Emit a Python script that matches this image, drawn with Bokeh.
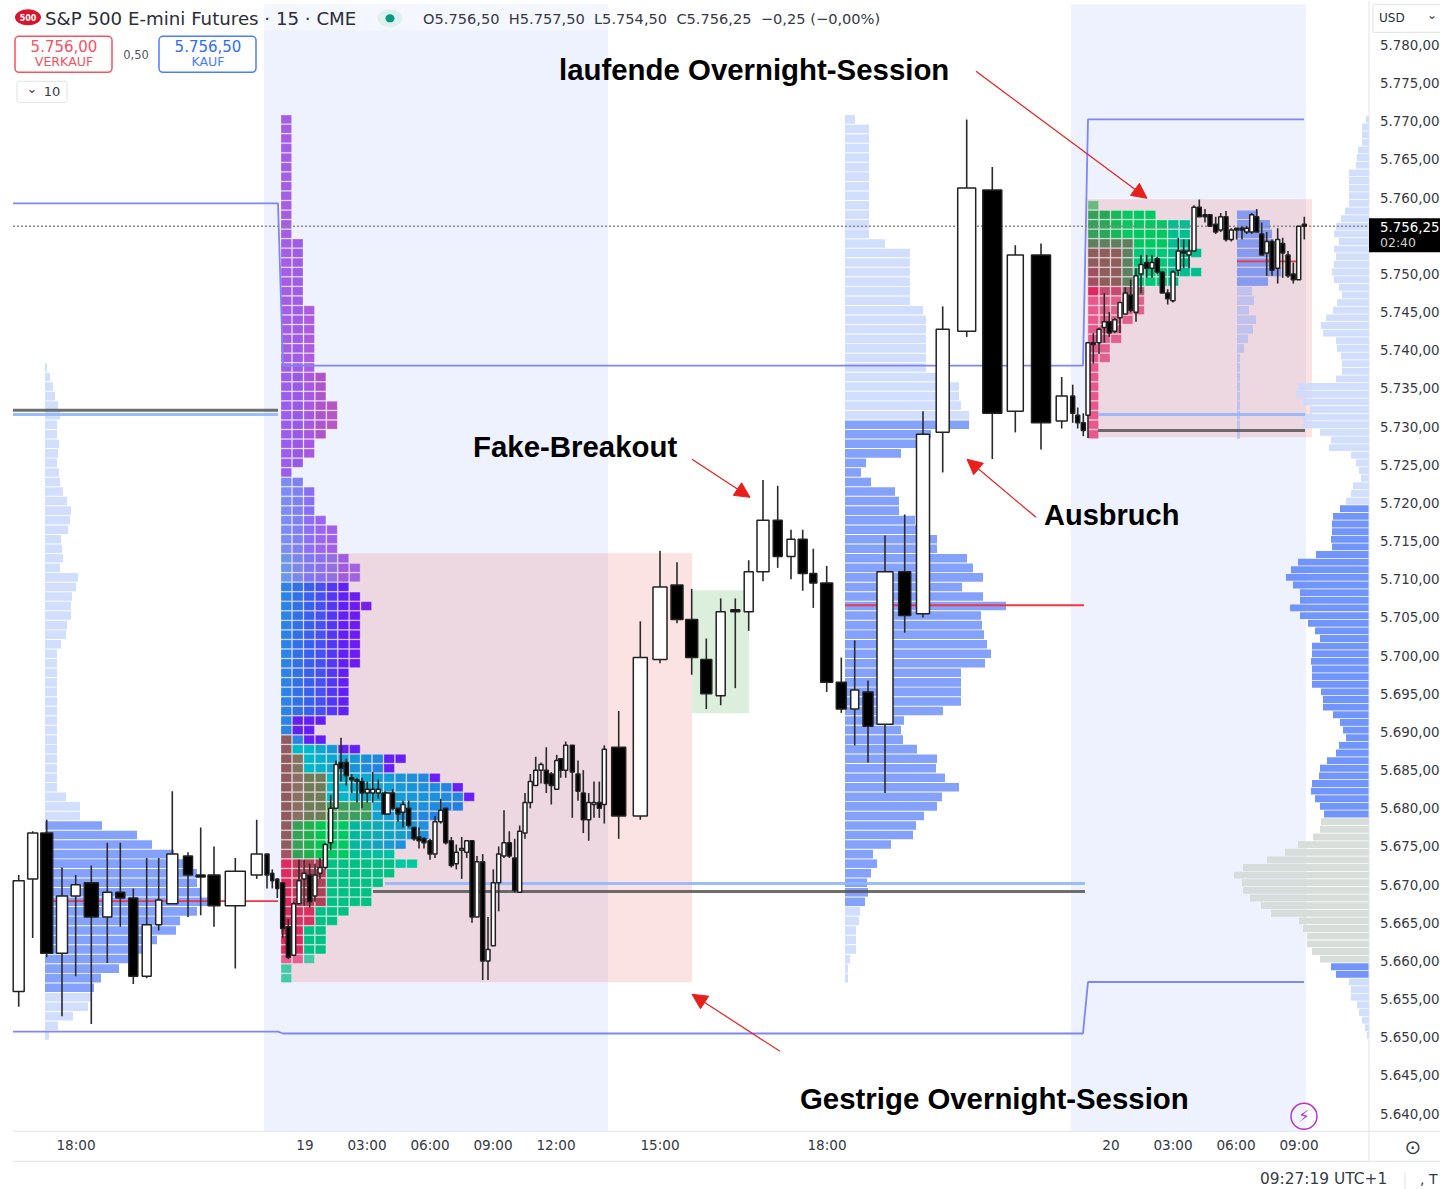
from bokeh.plotting import figure
from bokeh.embed import file_html
from bokeh.resources import INLINE
from bokeh.models import Range1d, FixedTicker, Label, Arrow, NormalHead, BoxAnnotation, ColumnDataSource

# ---------- data ----------
candle_x = [18.7,32.7,46.7,62,75.7,91.3,107.3,120.3,133.3,146.7,
158.7,172.3,188,200.7,214,235.3,256.7,267,272.3,277.3,
282.7,288.3,293.7,299,304,309.7,315,320,325.3,330.7,
336,341,346.3,351.7,357,362,367.3,372.7,378.3,385,
387.7,392.7,398,403,408.7,414,419,424,430,435,
440.7,445.7,451.3,456.3,461.7,466.7,472,477,482.7,488,
493.3,498.7,504,509.3,514.7,519.7,525,530.3,535.7,541,
546.3,551.3,556.7,560.7,565.7,572.3,578,583.3,588.7,594,
599.3,604.3,618.7,640.3,660,677,691.7,706.3,720.7,735.3,
748.7,763,777.7,791,802.7,813.3,826.7,841.3,854.7,868,
885,904.7,923,942.7,966.7,992.3,1015.3,1041,1061.7,1072.7,
1077.7,1083.3,1088,1093.3,1099,1104.3,1109.3,1114.7,1120,1125.3,
1130.7,1136,1141,1146.7,1152,1157.3,1162.3,1167.7,1173,1178.3,
1183.7,1189,1194,1199.3,1205,1210,1215.7,1220.7,1226,1231.3,
1236.7,1242,1246.7,1251.7,1256.7,1261.7,1266.7,1272,1277.7,1282.7,
1288,1293.3,1298.7,1304.3]
candle_dir = list("uuduududdu"  # 1-10
                  "uuddduuddd"  # 11-20
                  "dduuuduuuu"  # 21-30
                  "uddddduuud"  # 31-40
                  "uddudddddu"  # 41-50
                  "udduuududu"  # 51-60
                  "uuudduuuuu"  # 61-70
                  "ddududdduu"  # 71-80
                  "duduudddud"  # 81-90
                  "uududdddud"  # 91-100
                  "uduuududud"  # 101-110
                  "dduduuduuu"  # 111-120
                  "duududdduu"  # 121-130
                  "duuddddudu"  # 131-140
                  "dduuddudud"  # 141-150
                  "ddud")       # 151-154
candle_high = [5671.25,5677,5678.5,5672.25,5671.25,5672.5,5675.5,5675.5,5669.5,5673.5,
5673.5,5682.25,5674.25,5677.5,5675,5673.5,5678.5,5674,5672,5670.75,
5670.25,5665.5,5667.75,5673.25,5673.25,5672.75,5672.75,5673.5,5675.5,5681.75,
5686.25,5689.25,5686.5,5684.5,5684,5684,5683.5,5684.75,5683.75,5682.25,
5682,5682.5,5680,5681,5681,5677.5,5677.5,5676.25,5676,5679,
5681.25,5680,5676.25,5675.25,5676.25,5675.75,5675.75,5673.75,5674,5665.75,
5672,5675,5679.75,5677,5676,5677.75,5682,5684.5,5686.75,5686,
5688,5684.75,5687,5686.5,5688.75,5688.25,5686.25,5685,5682,5683.5,
5683.5,5688.25,5692.75,5704.5,5713.75,5712.25,5708.75,5702.25,5707.5,5707.5,
5712.5,5723,5722.25,5716.5,5716.5,5714,5711.75,5699.75,5702,5696.75,
5715.75,5718.5,5732,5745.75,5770.25,5764,5753.75,5754,5736.5,5735.5,
5732.5,5731.75,5741,5742.25,5743,5747.5,5745,5744.25,5746.25,5748.25,
5749.25,5750.75,5752.5,5752.5,5752.5,5752.25,5750.25,5748,5750.5,5754.75,
5754.5,5754.5,5759,5759.75,5758.5,5757.75,5757.5,5758,5758.25,5756,
5756,5756.25,5756.25,5758,5758.5,5756.75,5755.5,5754.5,5756,5754.75,
5753,5751.5,5756.25,5757.5]
candle_top = [5670.5,5676.75,5676.75,5668.5,5670,5670.25,5669,5669,5668.25,5664.75,
5668,5674,5673.75,5671.25,5671.25,5671.75,5674,5674,5671.5,5670.75,
5670.25,5664.5,5667.5,5670.5,5671.5,5671.25,5671.25,5672.25,5675.25,5680,
5685.75,5686,5686,5684,5683.75,5683.5,5682.5,5682.5,5682.5,5682,
5682,5682,5680,5680.5,5680,5677.5,5676.25,5676,5675.75,5678.25,
5679.75,5680,5675.75,5674.25,5674.75,5675.75,5675.75,5673,5673,5661.5,
5670.25,5674,5675.5,5675.5,5673.5,5677,5680.75,5683.5,5685,5685.75,
5685,5684.5,5686.25,5686.5,5688.25,5688.25,5684.5,5682,5680.75,5680.75,
5680.75,5687.75,5688,5699.75,5709,5709.25,5704.75,5699.5,5705.75,5706,
5711,5717.75,5717.75,5715.25,5715.25,5710.75,5709.5,5696.5,5695.5,5695.25,
5711,5711,5729,5742.75,5761.25,5761,5752.5,5752.5,5734,5734,
5731.5,5730.5,5741,5741,5742.75,5743.75,5743.75,5744,5746.25,5747.5,
5747.25,5749.75,5751.25,5751.5,5751.5,5752,5750.25,5747.5,5750.25,5753,
5753,5753,5758.75,5758.75,5757.75,5757.75,5756.5,5757.5,5757.5,5755.75,
5756,5756,5756,5757.75,5757.5,5755.25,5754.25,5754.25,5754.5,5754,
5752.5,5750,5756.25,5756.5]
candle_bottom = [5656,5670.75,5661,5661,5668.5,5665.75,5665.75,5668.25,5658,5658,
5664.75,5667.5,5671.25,5671,5667.25,5667.25,5671.25,5671.25,5670.5,5669.5,
5664.25,5660.5,5660.75,5667.5,5670.75,5667.75,5668.5,5671.5,5672.25,5675.5,
5680,5685.25,5684.25,5683.75,5683.5,5682,5682,5682,5682,5679.25,
5679.25,5680,5679.25,5679.5,5677.75,5676,5675.75,5675.5,5674,5674,
5678.25,5675.5,5672.5,5672.75,5674.5,5674.25,5665.75,5665.75,5660,5660,
5662,5670.25,5673.75,5673.75,5669.25,5669,5676.75,5680.75,5683,5685,
5683.25,5683,5682.5,5685,5685,5684.75,5682.25,5678.5,5678.5,5680.5,
5680,5680.5,5679,5679,5699.5,5704.75,5699.75,5695,5694.75,5705.75,
5705.75,5711,5713,5713,5710.75,5709.5,5696.5,5693,5693,5690.75,
5691,5705.25,5705.5,5729.25,5742.5,5731.75,5732,5730.5,5730.75,5731.75,
5730.5,5729.5,5731.5,5740.75,5741,5743,5742.25,5742.5,5744.25,5744.75,
5745.25,5745,5750,5750.75,5750.75,5750.25,5747.5,5746.75,5746.5,5750.5,
5752.75,5752.5,5753,5757.5,5757.5,5756.25,5755.5,5755.75,5754.5,5754.5,
5755.75,5755.75,5755.5,5755.5,5755.5,5752.5,5752.75,5750.5,5750.75,5752.75,
5749.75,5749.25,5749.25,5756.25]
candle_low = [5654,5663,5660.5,5652.75,5658,5651.75,5659.75,5664.5,5657,5657.75,
5664,5667.5,5665.75,5666,5664.5,5659,5670.75,5669.5,5669.5,5668.25,
5663,5660.25,5660.75,5667.5,5667.25,5667,5667.75,5670.75,5672,5674.5,
5680,5683.5,5683,5682,5680.75,5680,5680.75,5680.75,5681.25,5679.25,
5679.25,5679.75,5678.25,5677.5,5677.5,5675.75,5674.75,5674.75,5673.25,5673.5,
5678,5675.25,5672.25,5672,5670.75,5673.5,5665,5665.75,5657.5,5657.5,
5662,5666.5,5673.5,5673.5,5669,5669,5676,5680,5683,5683.25,
5682,5680.5,5682.5,5684,5684,5678.75,5681,5676.75,5675.75,5678.75,
5678.75,5678,5676,5678.5,5699,5704.25,5697.5,5693,5693.5,5695.75,
5703.25,5709.75,5711.5,5710,5708.5,5706.25,5695.25,5692.5,5688.25,5686,
5682,5703,5705,5724,5741.75,5725.75,5729.25,5727,5729.75,5730.5,
5729.75,5728.75,5728.5,5738.25,5739.5,5741,5741.75,5742.25,5742.25,5744.75,
5745,5743.75,5747.5,5749.5,5749.5,5750,5747.5,5746,5746.25,5749.75,
5750.75,5750.75,5753,5757.5,5756.75,5756.25,5755.25,5755.5,5754.25,5754.25,
5754.5,5754.5,5755.25,5755.25,5755.5,5752.5,5749.75,5749.75,5748.75,5749.5,
5749.5,5748.75,5749.25,5754.5]

# market-profile letter counts per price row, top row first
tpo_day = [1,1,1,1,1,1,1,1,1,1,1,1,1,2,2,2,2,2,2,2,3,3,3,3,3,3,3,4,4,4,5,5,5,4,3,3,2,1,2,3,3,3,4,5,5,5,
           6,7,7,6,7,8,7,7,7,7,7,7,6,6,6,6,6,4,3,4,7,11,10,14,16,17,16,14,13,13,11,10,12,10,9,8,8,6,5,4,4,4,3,1,1]
tpo_now = [1,6,9,9,9,10,9,10,8,5,5,5,4,3,3,2,2,1,1,1,1,1,1,1,1]

# volume profiles (volume per price row, top row first)
vp_prev = [2,5,8,10,13,15,12,12,14,13,12,14,15,18,22,26,25,23,16,17,18,15,33,31,27,26,26,22,21,16,
           12,12,12,12,12,12,12,12,12,12,12,12,12,12,12,21,35,35,
           57,92,107,129,142,152,152,156,169,152,135,131,112,97,86,74,56,49,46,43,28,13,4]
vp_day = [10,24,24,24,24,24,24,24,24,24,24,24,24,40,65,65,65,65,65,65,78,81,81,81,81,81,81,92,114,114,116,124,
          124,86,72,56,21,16,26,50,54,54,70,72,92,92,122,128,138,117,138,161,136,137,139,142,146,140,116,116,116,116,
          98,59,56,58,72,92,91,100,114,97,92,79,71,68,46,28,32,26,22,23,20,15,14,11,11,11,5,3,3]
vp_now = [21,33,35,37,34,37,44,31,15,17,12,19,16,11,7,3,3,3,3,3,3,3,3,3]
vp_all = [3,7,7,7,11,12,13,20,20,20,20,20,24,28,33,35,30,35,33,35,37,35,30,27,32,36,43,48,46,33,32,28,27,27,33,
          71,73,66,59,67,66,49,38,40,18,13,10,8,16,18,23,29,36,37,37,38,37,53,71,78,83,76,69,69,79,69,61,54,49,57,57,
          58,57,57,57,48,46,46,36,29,26,23,30,33,42,49,50,57,58,54,49,45,48,49,56,71,84,102,126,135,127,126,119,108,98,
          70,66,62,62,57,49,38,33,20,18,18,12,10,7,4,2]

level_high_prev = 5759.25
level_high_mid = 5738.0
level_high_now = 5770.25
level_low_prev = 5650.75
level_low_mid = 5650.5
level_low_now = 5657.25
price_last = 5756.25

# the 5755 label sits behind the last-price tag in the reference, so it is not listed
price_ticks = [5640,5645,5650,5655,5660,5665,5670,5675,5680,5685,5690,5695,5700,5705,5710,5715,5720,5725,5730,
               5735,5740,5745,5750,5760,5765,5770,5775,5780]
time_labels = ["18:00","19","03:00","06:00","09:00","12:00","15:00","18:00","20","03:00","06:00","09:00"]
time_slots = [76,305,367,430,493,556,660,827,1111,1173,1236,1299]

# ---------- layout helpers ----------
def Y(py):
    return 5785.85 - 0.131 * py

p = figure(width=1440, height=1189, output_backend="svg", toolbar_location=None,
           x_range=Range1d(0.5, 1440.5), y_range=Range1d(Y(1189.2), Y(0.2)), y_axis_location="right",
           min_border_left=0, min_border_right=0, min_border_top=0, min_border_bottom=0,
           outline_line_color=None, background_fill_color="white", border_fill_color="white")
p.grid.visible = False
GRID = "#E0E3EB"
TXT = "#363A45"

ax = p.xaxis[0]
ax.fixed_location = Y(1131)
ax.ticker = FixedTicker(ticks=time_slots)
ax.major_label_overrides = {t: s for t, s in zip(time_slots, time_labels)}
ax.major_tick_line_color = None
ax.major_tick_out = 0
ax.major_tick_in = 0
ax.minor_tick_line_color = None
ax.axis_line_color = None
ax.major_label_text_font = "DejaVu Sans"
ax.major_label_text_font_size = "13.6px"
ax.major_label_text_color = TXT
ax.major_label_standoff = 6

ay = p.yaxis[0]
ay.fixed_location = 1369
ay.ticker = FixedTicker(ticks=price_ticks)
ay.major_label_overrides = {v: "5.%03d,00" % (v - 5000) for v in price_ticks}
ay.major_tick_line_color = None
ay.major_tick_out = 0
ay.major_tick_in = 0
ay.minor_tick_line_color = None
ay.axis_line_color = None
ay.major_label_text_font = "DejaVu Sans"
ay.major_label_text_font_size = "13.4px"
ay.major_label_text_color = TXT
ay.major_label_standoff = 11

# ---------- backgrounds ----------
p.quad(left=[264, 1071], right=[608, 1306], bottom=Y(1131), top=Y(4), fill_color="#EEF2FE", line_color=None)
p.quad(left=[264], right=[608], bottom=Y(30), top=Y(4), fill_color="white", fill_alpha=0.4, line_color=None)
p.quad(left=[282, 1087], right=[692, 1312], bottom=[Y(982), Y(437)], top=[Y(553), Y(199)],
       fill_color="#EB7373", fill_alpha=0.2, line_color=None)
p.quad(left=[692], right=[749], bottom=[Y(713)], top=[Y(590)], fill_color="#4CAF50", fill_alpha=0.2, line_color=None)

# ---------- market profile cells ----------
ROW = 1.25
TOP = 5770.25
def mix(a, b, t):
    t = max(0, min(1, t))
    ca = [int(a[i:i+2], 16) for i in (1, 3, 5)]
    cb = [int(b[i:i+2], 16) for i in (1, 3, 5)]
    return "#%02X%02X%02X" % tuple(round(x + (y - x) * t) for x, y in zip(ca, cb))

def day_color(r, c, n):
    e = n - 1 - c
    if r <= 26:
        return ["#A45EE6", "#A05CE8", "#AC5CDE"][min(c, 2)]
    if r <= 37:
        return ["#9B5CF0", "#9A58E8", "#A758E0", "#AE55CC", "#B556C2"][min(c, 4)]
    if r <= 45:
        return ["#7D8BF5", "#8080F5", "#8A6EF5", "#9A65F0", "#A060E8", "#9A5CD8", "#A565E0"][min(c, 6)]
    if r <= 48:
        return ["#6E96E8", "#7C88E8", "#8078F0", "#8870F0", "#9070E0", "#A05CDC", "#A262E2"][min(c, 6)]
    if r <= 62:
        return ["#2C82E6", "#3070E8", "#3860EE", "#4650F4", "#5238F6", "#6020F6", "#6C1CF0", "#7420E6"][min(c, 7)]
    if r <= 64:
        return "#2C82E6" if c == 0 else "#6320F5"
    if c == 0:
        if r <= 76: return "#8E5C5E"
        if r == 77: return "#A05560"
        if r <= 87: return "#E0295E"
        if r == 88: return "#E86090"
        return "#45C9A7"
    if r == 65:
        return "#2C82E6" if c == 1 else "#6320F5"
    if r <= 68:
        if r >= 67 and c == 1: return "#7E7460"
        if (r == 66 and e <= 1) or (r == 67 and e <= 1) or (r == 68 and e == 0): return "#6520F5"
        return mix("#00B8C8", "#2A78E6", (c - 2) / max(n - 3, 1))
    if r <= 73:
        if c == 1: return "#8A7062"
        if c <= 3: return "#6E7C58"
        if r >= 72 and c <= 7: return "#3C9E5C"
        if r <= 71 and e == 0: return "#6A20F5"
        return mix("#00BBC8", "#2680E4", (c - 4) / max(n - 5, 1))
    if r <= 77:
        if c <= 3: return ["", "#35A058", "#20B050", "#00C850"][c]
        if c <= 5: return "#00C864"
        end = "#1F8FE0" if r <= 76 else "#00BFA5"
        return mix("#00C090", end, (c - 5) / max(n - 6, 1))
    if r <= 82:
        if c == 1: return "#C03A5C"
        if c <= 3: return "#B04058"
        if r == 78 and c >= 10: return "#00C8A0"
        return "#00C084"
    if r <= 84:
        return "#D83060" if c <= 2 else "#00C084"
    if r <= 87:
        return "#E0295E" if c == 1 else "#00C084"
    if r == 88:
        return "#E86090" if c == 1 else "#45C9A7"
    return "#45C9A7"

def now_color(r, c, n):
    if r == 0: return "#6CB87E"
    if r <= 3:
        if c >= 7: return "#00BE90"
        return ["#35A058", "#25A858", "#15B858", "#05C860"][c] if c <= 3 else "#00C860"
    if r == 4:
        if c >= 7: return "#00BE90"
        return "#5F8060" if c <= 3 else "#00C860"
    if r <= 8:
        if c >= 7: return "#00BE90"
        if c <= 2: return "#A05060" if (r >= 7 and c == 0) else "#8E5E5C"
        if c == 3: return "#5F8060"
        return "#00C878"
    if r == 9:
        return ["#E0295E", "#C84A70", "#C84A70", "#A06070", "#A06070"][c]
    return "#E8588C" if c == 0 else "#E0608C"

def cells(rows, x0, first_row, colf):
    out = dict(l=[], r=[], t=[], b=[], c=[])
    for i, n in enumerate(rows):
        mid = TOP - ROW * (first_row + i)
        for c in range(n):
            out["l"].append(x0 + c * 11.43)
            out["r"].append(x0 + c * 11.43 + 10.6)
            out["t"].append(mid + ROW * 0.46)
            out["b"].append(mid - ROW * 0.46)
            out["c"].append(colf(i, c, n))
    return ColumnDataSource(out)

p.quad(left="l", right="r", top="t", bottom="b", fill_color="c", line_color="white", line_alpha=0.35, line_width=0.8,
       source=cells(tpo_day, 281, 0, day_color))
p.quad(left="l", right="r", top="t", bottom="b", fill_color="c", line_color="white", line_alpha=0.35, line_width=0.8,
       source=cells(tpo_now, 1088, 9, now_color))

# ---------- volume profiles ----------
LIGHT = "#CFDCFD"
DARK = "#7D9DFB"
def rows_hbar(values, base, first_row, top_price=TOP, step=ROW, sign=1, colors=None, alpha=1.0):
    y = [top_price - step * (first_row + i) for i in range(len(values))]
    end = [base + sign * v for v in values]
    p.hbar(y=y, left=base, right=end, height=step * 0.9, fill_color=colors, fill_alpha=alpha, line_color=None)

rows_hbar(vp_prev, 45, 26, colors=[DARK if 74 <= 26 + i <= 91 else LIGHT for i in range(len(vp_prev))], alpha=0.95)
rows_hbar(vp_day, 845, 0, colors=[DARK if 32 <= i <= 82 else LIGHT for i in range(len(vp_day))], alpha=0.95)
rows_hbar(vp_now, 1237, 10, colors=["#7490F0" if i <= 7 else "#B9BDEE" for i in range(len(vp_now))], alpha=0.85)
rows_hbar(vp_all, 1369, 0, top_price=5770.25, step=1.0, sign=-1, alpha=0.9,
          colors=["#D3DAD6" if 92 <= i <= 110 else ("#628AFB" if (51 <= i <= 91 or 111 <= i <= 112) else "#CCDAFD")
                  for i in range(len(vp_all))])

# ---------- levels ----------
LEVEL = "#7F86F5"
p.line([13, 278, 283, 1083, 1088, 1304],
       [level_high_prev, level_high_prev, level_high_mid, level_high_mid, level_high_now, level_high_now],
       line_color=LEVEL, line_width=1.8)
p.line([13, 278, 283, 1083, 1088, 1304],
       [level_low_prev, level_low_prev, level_low_mid, level_low_mid, level_low_now, level_low_now],
       line_color=LEVEL, line_width=1.8)
p.segment(x0=[13, 373, 1098], x1=[278, 1085, 1305], y0=[5732.15, 5669.1, 5729.5], y1=[5732.15, 5669.1, 5729.5],
          line_color="#555555", line_width=3, line_alpha=0.85)
p.segment(x0=[13, 385, 1098], x1=[278, 1085, 1305], y0=[5731.6, 5670.15, 5731.6], y1=[5731.6, 5670.15, 5731.6],
          line_color="#8FB6FB", line_width=3, line_alpha=0.9)
p.segment(x0=[52, 845, 1237], x1=[278, 1084, 1298], y0=[5667.85, 5706.6, 5751.65], y1=[5667.85, 5706.6, 5751.65],
          line_color="#F23645", line_width=1.8)
p.line([13, 1369], [price_last, price_last], line_color="#888888", line_dash="2 2", line_width=1.3)

# ---------- candles ----------
widths = [11,10,12,11,9,14,9,9,9,9,6,11,9,9,12,20,11,4,3,3] + [4]*62 + \
         [14,14,14,12,12,11,9,9,9,12,9,8,9,7,12,10,8,10,16,12,13,13,18,19,16,19,11,4,4,4] + [4]*42
widths[39] = 6
widths[40] = 5
src = ColumnDataSource(dict(x=candle_x, hi=candle_high, lo=candle_low, top=candle_top, bot=candle_bottom, w=widths,
                            f=["white" if d == "u" else "black" for d in candle_dir]))
p.segment(x0="x", x1="x", y0="lo", y1="hi", line_color="#2A2A2A", line_width=1.6, source=src)
p.vbar(x="x", width="w", top="top", bottom="bot", fill_color="f", line_color="#222222", line_width=1.5, source=src)

# ---------- annotations ----------
def txt(x, y, s, size, color=TXT, font="DejaVu Sans", style="normal", align="left"):
    p.add_layout(Label(x=x, y=Y(y), text=s, text_font=font, text_font_size=f"{size}px", text_color=color,
                       text_font_style=style, text_align=align, text_baseline="middle"))

def rule(x0, y0, x1, y1, color=GRID, lw=1):
    p.segment(x0=[x0], y0=[Y(y0)], x1=[x1], y1=[Y(y1)], line_color=color, line_width=lw)

RED = "#E8201C"
for a in [(976, 71, 1147, 198), (692, 459, 750, 497), (1036, 517, 967, 459), (780, 1051, 692, 994)]:
    p.add_layout(Arrow(end=NormalHead(size=15, fill_color=RED, line_color=RED), x_start=a[0], y_start=Y(a[1]),
                       x_end=a[2], y_end=Y(a[3]), line_color=RED, line_width=1.2))

AF = "Liberation Sans"
txt(559, 69, "laufende Overnight-Session", 29.4, "#000000", AF, "bold")
txt(473, 446, "Fake-Breakout", 29.4, "#000000", AF, "bold")
txt(1044, 515, "Ausbruch", 29, "#000000", AF, "bold")
txt(800, 1098, "Gestrige Overnight-Session", 29.4, "#000000", AF, "bold")

# header
p.ellipse(x=[28], y=[Y(17)], width=26, height=16 * 0.131, fill_color="#D8152C", line_color=None)
txt(28, 17, "500", 8, "white", "DejaVu Sans", "bold", "center")
txt(45, 18, "S&P 500 E-mini Futures · 15 · CME", 18.2, "#2A2E39")
p.ellipse(x=[390], y=[Y(18)], width=25, height=18 * 0.131, fill_color="#DDF1EE", line_color=None)
p.ellipse(x=[390], y=[Y(18)], width=9, height=8 * 0.131, fill_color="#089981", line_color=None)
txt(423, 18, "O5.756,50  H5.757,50  L5.754,50  C5.756,25  −0,25 (−0,00%)".replace("  ", "\u00a0\u00a0"), 14.6, TXT)

p.add_layout(BoxAnnotation(left=15, right=112, top=Y(36), bottom=Y(72), fill_color="white", fill_alpha=1,
                           line_color="#F7525F", line_alpha=1, line_width=1.5, border_radius=4))
p.add_layout(BoxAnnotation(left=159, right=256, top=Y(36), bottom=Y(72), fill_color="white", fill_alpha=1,
                           line_color="#4C7DFF", line_alpha=1, line_width=1.5, border_radius=4))
p.add_layout(BoxAnnotation(left=17, right=67, top=Y(81), bottom=Y(102), fill_color="white", fill_alpha=1,
                           line_color=GRID, line_alpha=1, line_width=1, border_radius=2))
txt(64, 46, "5.756,00", 15, "#F7525F", align="center")
txt(64, 61, "VERKAUF", 12.6, "#F7525F", align="center")
txt(208, 46, "5.756,50", 15, "#2F6BFF", align="center")
txt(208, 61, "KAUF", 12.6, "#4C7DFF", align="center")
txt(136, 54, "0,50", 11.5, "#50535E", align="center")
txt(32, 88, "⌄", 13, TXT, align="center")
txt(52, 91, "10", 13, TXT, align="center")

# right and bottom chrome
rule(1369, 0, 1369, 1161)
rule(13, 1131, 1440, 1131)
rule(13, 1161, 1440, 1161)
rule(1373, 4, 1440, 4)
rule(1373, 4, 1373, 32)
rule(1373, 32, 1440, 32)
txt(1379, 18, "USD", 12, "#2A2E39")
txt(1432, 15, "⌄", 12, TXT, align="center")
p.quad(left=[1369], right=[1441], top=[Y(218)], bottom=[Y(252)], fill_color="black", line_color=None)
txt(1380, 227, "5.756,25", 13.4, "white")
txt(1380, 242, "02:40", 12.5, "#CFCFCF")
txt(1413, 1147, "⊙", 20, TXT, align="center")
txt(1260, 1179, "09:27:19 UTC+1", 15.4, TXT)
rule(1405, 1172, 1405, 1189)
txt(1420, 1179, ", T", 14, TXT)

p.circle(x=[1304], y=[Y(1116)], radius=13, fill_color="white", fill_alpha=0.2, line_color="#B23AC6", line_width=1.5)
txt(1304, 1116, "⚡", 17, "#B23AC6", align="center")

open("out.html", "w").write(file_html(p, INLINE))
